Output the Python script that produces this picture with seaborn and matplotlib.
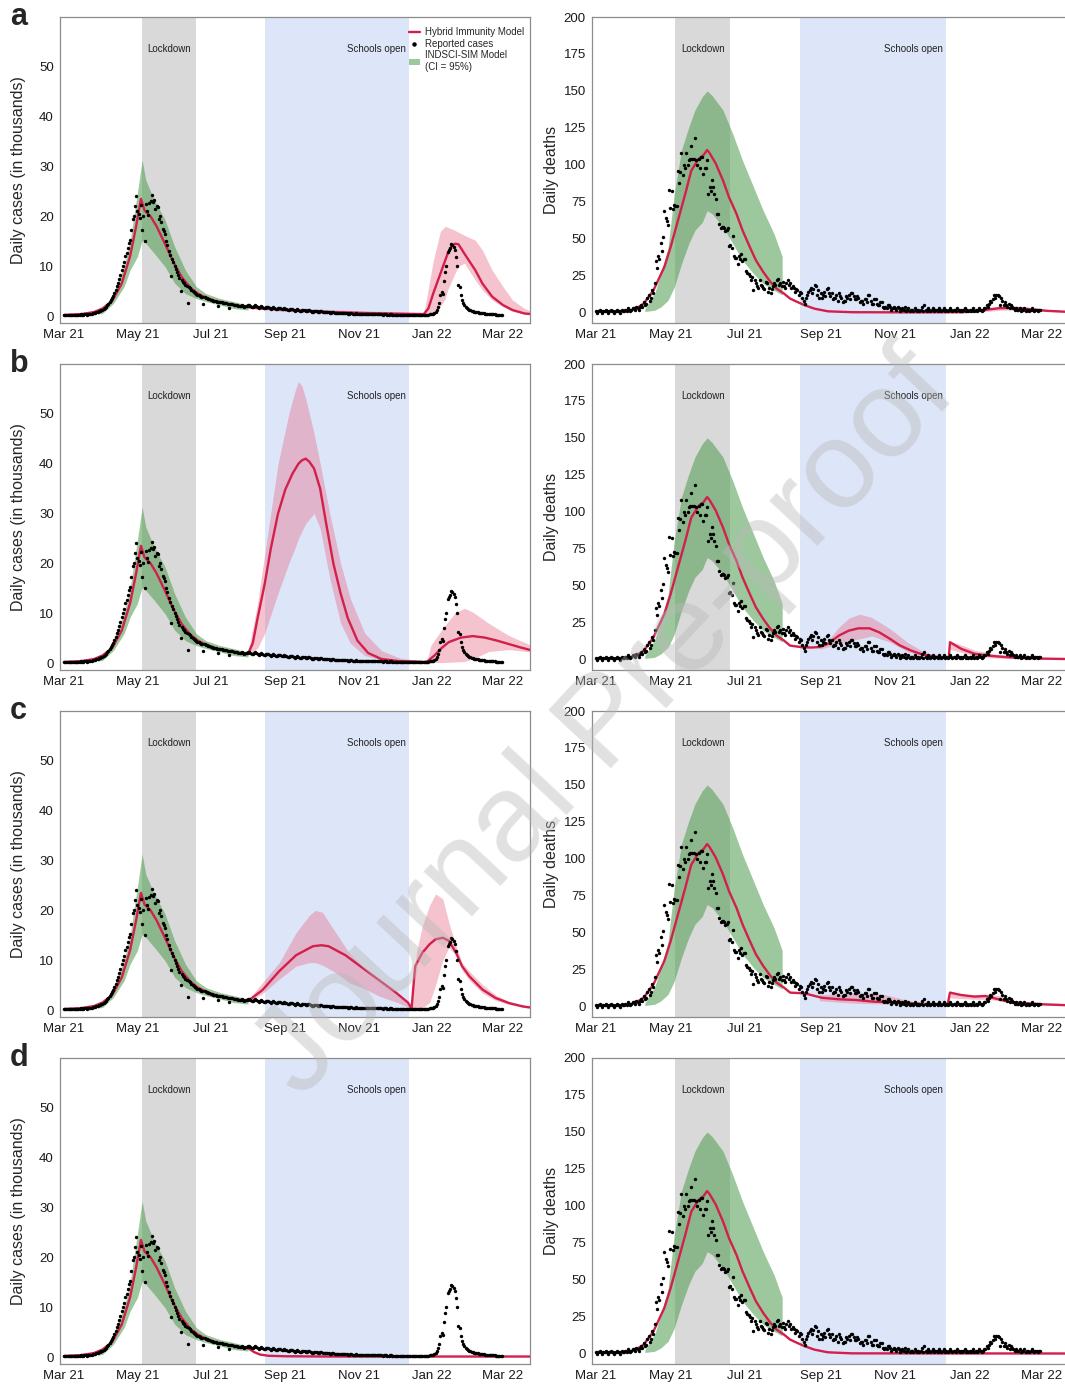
import numpy as np
import pandas as pd
import seaborn as sns
import matplotlib.pyplot as plt
import matplotlib.dates as mdates
from matplotlib.lines import Line2D
from matplotlib.patches import Patch

# ---------------------------------------------------------------
# data; days are counted from 1 Mar 2021
# ---------------------------------------------------------------
START = pd.Timestamp("2021-03-01")
LOCKDOWN = ("2021-05-05", "2021-06-19")
SCHOOLS = ("2021-08-15", "2021-12-13")

# reported daily cases (thousands), 1 Mar 2021 .. 28 Feb 2022
reported_cases = [
    # Mar
    0.2, 0.2, 0.2, 0.3, 0.2, 0.2, 0.3, 0.2, 0.3, 0.3, 0.2, 0.3, 0.3, 0.3, 0.4, 0.3,
    0.3, 0.4, 0.4, 0.3, 0.4, 0.4, 0.5, 0.5, 0.6, 0.6, 0.7, 0.8, 0.8, 1.0, 1.1,
    # Apr
    1.2, 1.3, 1.5, 1.7, 1.9, 2.2, 2.5, 2.9, 3.3, 3.6, 4.0, 4.6, 5.3, 6.0, 6.6,
    7.4, 8.3, 9.2, 10.0, 10.8, 12.0, 12.6, 13.6, 14.6, 15.2, 17.3, 19.5, 20.1, 22.0, 24.0,
    # May
    21.0, 20.5, 19.6, 22.2, 17.2, 20.0, 15.0, 22.4, 21.0, 20.2, 22.6, 23.0, 24.2, 22.8,
    23.2, 21.5, 22.0, 21.8, 19.5, 20.0, 18.8, 17.5, 17.0, 16.4, 15.0, 14.2, 13.0, 12.2,
    8.0, 11.5, 10.8,
    # Jun
    10.0, 9.4, 8.8, 8.2, 7.6, 5.0, 7.2, 6.8, 6.6, 6.2, 6.0, 2.6, 5.8, 5.6, 5.3, 5.0,
    4.8, 4.6, 4.5, 4.3, 4.2, 4.0, 3.9, 3.8, 2.5, 3.8, 3.7, 3.6, 3.5, 3.4,
    # Jul
    3.3, 3.2, 3.0, 3.1, 3.0, 2.9, 2.0, 2.9, 2.8, 2.8, 2.7, 2.6, 2.7, 2.6, 2.5, 1.6,
    2.5, 2.4, 2.4, 2.3, 2.2, 2.3, 2.2, 2.1, 2.0, 2.1, 2.2, 2.0, 1.9, 2.0, 2.1,
    # Aug
    2.2, 2.3, 2.1, 1.9, 1.8, 2.0, 2.2, 2.1, 1.9, 1.7, 1.8, 2.0, 1.9, 1.7, 1.6, 1.8,
    1.9, 1.8, 1.6, 1.5, 1.7, 1.8, 1.7, 1.5, 1.4, 1.6, 1.7, 1.6, 1.4, 1.4, 1.6,
    # Sep
    1.5, 1.4, 1.2, 1.2, 1.4, 1.5, 1.4, 1.2, 1.1, 1.3, 1.4, 1.3, 1.1, 1.0, 1.2, 1.3,
    1.2, 1.0, 1.0, 1.2, 1.2, 1.1, 0.9, 0.9, 1.1, 1.1, 1.0, 0.9, 0.8, 1.0,
    # Oct
    1.0, 0.9, 0.8, 0.8, 0.9, 0.9, 0.8, 0.7, 0.7, 0.8, 0.8, 0.7, 0.6, 0.6, 0.7, 0.7,
    0.6, 0.6, 0.6, 0.7, 0.6, 0.6, 0.5, 0.5, 0.6, 0.6, 0.5, 0.5, 0.5, 0.6, 0.5,
    # Nov
    0.5, 0.5, 0.4, 0.5, 0.5, 0.5, 0.4, 0.4, 0.5, 0.5, 0.4, 0.4, 0.4, 0.5, 0.4, 0.4,
    0.4, 0.4, 0.4, 0.4, 0.3, 0.4, 0.4, 0.4, 0.3, 0.3, 0.4, 0.4, 0.3, 0.3,
    # Dec
    0.3, 0.3, 0.3, 0.3, 0.3, 0.3, 0.3, 0.3, 0.3, 0.3, 0.3, 0.3, 0.3, 0.3, 0.3, 0.3,
    0.3, 0.3, 0.3, 0.3, 0.3, 0.3, 0.3, 0.3, 0.3, 0.3, 0.3, 0.3, 0.3, 0.4, 0.4,
    # Jan
    0.4, 0.5, 0.7, 0.9, 1.2, 1.8, 2.6, 4.2, 4.8, 4.5, 7.0, 8.8, 10.0, 12.8, 13.2,
    13.6, 14.5, 14.3, 13.9, 13.2, 11.8, 10.0, 6.2, 5.9, 4.2, 3.2, 2.6, 2.2, 1.9, 1.7, 1.5,
    # Feb
    1.3, 1.2, 1.1, 1.0, 0.9, 0.9, 0.8, 0.8, 0.7, 0.7, 0.6, 0.6, 0.6, 0.5, 0.5, 0.5,
    0.5, 0.4, 0.4, 0.4, 0.4, 0.4, 0.3, 0.3, 0.3, 0.3, 0.3, 0.3,
]

# reported daily deaths, 1 Mar 2021 .. 28 Feb 2022
reported_deaths = [
    # Mar
    1, 0, 1, 2, 1, 0, 1, 1, 2, 1, 0, 1, 2, 1, 1, 0, 1, 2, 1, 1, 0, 2, 1, 1, 2, 1, 3, 2, 1, 2, 3,
    # Apr
    3, 2, 4, 3, 2, 4, 5, 4, 7, 5, 6, 10, 12, 8, 10, 15, 13, 20, 35, 30,
    38, 36, 47, 42, 51, 69, 64, 62, 59, 83,
    # May
    71, 82, 70, 73, 72, 72, 96, 88, 95, 108, 93, 100, 98, 108, 100, 103, 104, 113, 104, 104,
    118, 103, 100, 104, 98, 105, 105, 94, 98, 98, 103,
    # Jun
    80, 85, 82, 90, 85, 80, 77, 67, 67, 60, 57, 58, 58, 57, 55, 56, 57, 45, 46, 44,
    52, 38, 37, 37, 33, 38, 36, 40, 35, 36,
    # Jul
    36, 28, 27, 26, 25, 22, 24, 15, 22, 20, 18, 17, 22, 19, 18, 17, 16, 21, 20, 14,
    17, 13, 16, 18, 20, 19, 22, 23, 19, 20, 18,
    # Aug
    21, 18, 17, 20, 22, 19, 20, 17, 18, 17, 14, 16, 15, 12, 14, 13, 10, 8, 6, 10,
    12, 14, 15, 17, 13, 16, 19, 18, 12, 15, 10,
    # Sep
    13, 10, 12, 14, 11, 16, 17, 13, 11, 13, 9, 10, 10, 12, 8, 13, 11, 10, 7, 8,
    8, 11, 10, 12, 9, 13, 13, 11, 9, 9,
    # Oct
    11, 10, 7, 8, 8, 6, 9, 9, 7, 12, 12, 8, 6, 6, 9, 9, 6, 5, 5, 7,
    7, 4, 3, 4, 3, 5, 5, 4, 2, 3, 4,
    # Nov
    3, 2, 4, 3, 1, 2, 3, 2, 4, 1, 2, 3, 1, 2, 2, 1, 3, 2, 1, 2, 1, 2, 4, 1, 5, 2, 1, 3, 2, 1,
    # Dec
    2, 3, 1, 2, 2, 1, 3, 2, 1, 2, 3, 1, 2, 1, 2, 3, 2, 1, 2, 2, 1, 3, 2, 1, 2, 1, 2, 3, 1, 2, 1,
    # Jan
    2, 1, 2, 3, 1, 2, 1, 2, 3, 2, 1, 2, 3, 3, 5, 4, 6, 8, 7, 9,
    12, 10, 12, 12, 11, 5, 10, 8, 5, 7, 5,
    # Feb
    4, 6, 3, 5, 4, 3, 2, 3, 2, 2, 3, 1, 2, 2, 3, 1, 2, 2, 1, 2, 3, 2, 1, 2, 2, 1, 2, 2,
]

# INDSCI-SIM model band (95% CI)
green_case_days = [28, 32, 41, 50, 55, 61, 65, 68, 75, 84, 92, 101, 110, 118, 130, 141, 153]
green_case_low = [0.4, 0.5, 2.5, 5.9, 9.2, 11.9, 15.2, 14.6, 12.6, 9.9, 6.6, 4.5, 3.5, 2.9, 2.2, 1.5, 1.2]
green_case_high = [0.6, 1.2, 4.5, 10.0, 15.0, 24.6, 31.3, 27.3, 23.3, 19.3, 13.9, 9.2, 5.9, 4.5, 3.5, 2.9, 2.2]

green_death_days = [40, 48, 53, 59, 64, 70, 76, 81, 87, 91, 95, 104, 112, 120, 129, 137, 146, 152.5]
green_death_low = [0.8, 1.6, 3.8, 8.3, 17, 33, 46.7, 55.7, 61, 69, 67, 58, 46.7, 35.4, 26.4, 19.6, 15, 12]
green_death_high = [2.5, 13, 26, 44, 80, 110, 125.6, 137, 146, 150, 147, 137, 121, 103, 85, 69, 53, 38]

# hybrid immunity model, fitted part shared by all scenarios
fit_case_days = [0, 15, 25, 32, 40, 48, 55, 60, 64, 67, 72, 77, 84, 91, 98, 105, 112, 119, 126, 133, 140, 147, 153]
fit_case_vals = [0.2, 0.4, 0.8, 1.5, 3.0, 6.5, 12.0, 18.0, 23.5, 21.2, 20.0, 18.0, 14.5, 10.8, 7.8, 5.7,
                 4.4, 3.6, 3.0, 2.6, 2.3, 2.0, 1.8]
fit_death_days = [0, 20, 31, 39, 47, 56, 61, 67, 73, 78, 84, 88, 91, 93, 98, 104, 109, 115, 120, 126,
                  131, 137, 143, 148, 154, 159]
fit_death_vals = [0.5, 1.0, 2.0, 6.0, 15.0, 31.0, 44.0, 62.0, 80.0, 96.0, 104.0, 106.5, 110.0, 108.0,
                  101.0, 89.5, 78.0, 67.0, 55.7, 44.4, 35.4, 27.5, 20.7, 16.2, 12.9, 9.5]

# scenario a
a_case_days = [165, 180, 200, 220, 250, 280, 299, 303, 307, 313, 319, 322, 325, 328, 333, 342, 348, 356, 365, 373, 383, 388]
a_case_vals = [1.5, 1.3, 1.0, 0.8, 0.6, 0.45, 0.35, 1.5, 4.5, 8.5, 12.5, 13.9, 14.5, 14.4, 12.5, 9.2, 6.5, 3.9, 2.2, 1.2, 0.5, 0.4]
a_case_band1_days = [153, 180, 210, 240, 270, 298]
a_case_band1_low = [1.5, 1.0, 0.6, 0.3, 0.2, 0.1]
a_case_band1_high = [2.1, 1.7, 1.4, 1.1, 0.9, 0.8]
a_case_band2_days = [299, 300, 307, 313, 317, 319, 325, 328, 333, 342, 348, 356, 365, 373, 383, 388]
a_case_band2_low = [0.2, 0.2, 0.5, 1.9, 3.5, 5.2, 8.5, 10.0, 10.6, 7.2, 5.2, 3.2, 1.9, 0.9, 0.5, 0.4]
a_case_band2_high = [0.5, 1.5, 11.0, 17.0, 18.0, 17.8, 17.2, 16.8, 16.2, 15.2, 13.2, 9.2, 5.9, 3.2, 1.5, 1.0]
a_death_days = [165, 171, 179, 190, 210, 250, 300, 310, 320, 330, 340, 350, 360, 370, 388]
a_death_vals = [7.2, 5.0, 2.7, 0.9, 0.3, 0.2, 0.3, 0.8, 2.0, 3.0, 3.2, 2.8, 2.0, 1.2, 0.5]
a_death_band_days = [305, 315, 330, 345, 360, 375, 388]
a_death_band_low = [0.2, 0.5, 1.5, 2.0, 1.2, 0.6, 0.3]
a_death_band_high = [0.5, 1.8, 4.0, 4.5, 3.0, 1.8, 1.0]

# scenario b
b_case_days = [157, 161, 167, 172, 178, 184, 190, 195, 198, 201, 204, 208, 213, 218, 224, 230, 236, 244,
               253, 264, 278, 290, 300, 302, 308, 314, 320, 330, 340, 350, 360, 370, 380, 388]
b_case_vals = [4.0, 9.0, 16.0, 23.0, 30.0, 34.8, 38.0, 40.0, 40.7, 41.0, 40.4, 39.0, 35.0, 28.0, 20.0,
               14.0, 9.0, 4.5, 2.0, 0.8, 0.4, 0.3, 0.2, 0.3, 1.5, 3.0, 4.2, 5.1, 5.4, 5.1, 4.5, 3.8, 3.1, 2.6]
b_case_band1_days = [153, 161, 167, 178, 187, 192, 195, 198, 201, 208, 213, 221, 230, 238, 250, 264, 279, 300]
b_case_band1_low = [1.5, 3.0, 6.0, 14.0, 20.0, 23.0, 25.0, 26.5, 28.0, 30.0, 27.0, 17.0, 8.0, 4.0, 1.5, 0.6, 0.2, 0.1]
b_case_band1_high = [2.1, 12.0, 22.0, 40.0, 50.0, 54.5, 56.5, 55.5, 53.0, 46.0, 40.0, 30.0, 20.0, 13.0, 6.0, 2.5, 1.0, 0.4]
b_case_band2_days = [302, 305, 315, 325, 333, 340, 353, 370, 388]
b_case_band2_low = [0.1, 0.1, 0.1, 0.2, 0.3, 0.8, 2.3, 2.7, 2.2]
b_case_band2_high = [0.5, 3.5, 7.0, 10.0, 11.0, 10.2, 8.0, 5.5, 3.6]
b_death_days = [168, 176, 183, 190, 199, 207, 215, 224, 232, 241, 249, 258, 268, 280, 289, 290, 299,
                310, 324, 338, 352, 366, 388]
b_death_vals = [8.5, 8.2, 8.5, 10.7, 16.3, 19.6, 21.2, 21.2, 18.5, 14.0, 9.6, 6.2, 3.3, 1.8, 1.1, 11.8,
                7.4, 4.0, 2.5, 1.6, 1.1, 0.7, 0.4]
b_death_band1_days = [183, 190, 199, 207, 216, 226, 241, 255, 269, 283, 289]
b_death_band1_low = [7.0, 8.5, 10.7, 13.0, 14.0, 16.0, 11.8, 5.5, 2.2, 1.2, 0.9]
b_death_band1_high = [9.0, 13.0, 22.0, 28.0, 30.8, 28.5, 20.8, 11.8, 5.0, 1.8, 1.3]
b_death_band2_days = [290, 299, 310, 325, 340, 360, 388]
b_death_band2_low = [7.0, 5.0, 2.5, 1.2, 0.7, 0.4, 0.2]
b_death_band2_high = [12.5, 10.0, 6.5, 4.0, 2.5, 1.5, 0.8]

# scenario c
c_case_days = [165, 179, 193, 207, 214, 220, 234, 248, 262, 276, 286, 289, 292, 298, 304, 309, 315,
               320, 326, 331, 337, 348, 359, 370, 382, 388]
c_case_vals = [4.0, 7.8, 11.0, 12.8, 13.0, 12.8, 11.0, 8.5, 6.0, 3.5, 1.5, 0.3, 8.8, 11.5, 13.2, 14.2,
               14.5, 13.9, 11.5, 8.8, 6.8, 4.1, 2.4, 1.4, 0.7, 0.5]
c_case_band1_days = [153, 165, 179, 193, 204, 209, 215, 226, 237, 248, 262, 276, 289]
c_case_band1_low = [1.6, 3.3, 6.2, 8.8, 9.5, 9.5, 9.0, 7.5, 5.5, 4.5, 2.8, 1.6, 0.3]
c_case_band1_high = [2.0, 5.5, 9.5, 15.5, 19.0, 20.0, 19.6, 15.5, 11.5, 8.8, 5.7, 3.4, 0.5]
c_case_band2_days = [289, 293, 298, 304, 309, 315, 320, 326, 331, 337, 348, 359, 370, 382, 388]
c_case_band2_low = [0.1, 0.2, 0.4, 1.5, 5.0, 10.0, 12.5, 11.0, 8.0, 6.0, 3.4, 1.9, 1.1, 0.5, 0.4]
c_case_band2_high = [0.5, 11.5, 16.9, 21.0, 23.3, 22.3, 17.6, 12.8, 9.5, 7.8, 5.1, 3.0, 1.7, 0.8, 0.6]
c_death_days = [171, 185, 199, 213, 227, 241, 255, 269, 288, 290, 299, 310, 319, 324, 338, 352, 366, 388]
c_death_vals = [9.0, 6.0, 5.0, 4.5, 3.4, 3.0, 2.3, 1.8, 1.1, 9.5, 7.9, 6.8, 7.2, 6.1, 3.4, 2.3, 1.6, 0.9]
c_death_band1_days = [183, 199, 213, 227, 238, 249, 260, 271, 288]
c_death_band1_low = [4.0, 3.0, 2.3, 2.0, 1.8, 1.5, 1.2, 1.0, 0.8]
c_death_band1_high = [8.0, 8.5, 9.0, 9.0, 7.9, 5.6, 3.4, 2.3, 1.5]
c_death_band2_days = [290, 299, 310, 320, 330, 340, 355, 370, 388]
c_death_band2_low = [6.0, 5.5, 5.0, 5.0, 4.0, 2.5, 1.6, 1.0, 0.6]
c_death_band2_high = [10.5, 8.5, 8.0, 8.5, 7.5, 4.5, 2.8, 2.0, 1.2]

# scenario d
d_case_days = [158, 163, 170, 185, 220, 388]
d_case_vals = [1.0, 0.5, 0.25, 0.15, 0.1, 0.1]
d_death_days = [165, 171, 179, 190, 210, 388]
d_death_vals = [7.2, 5.0, 2.7, 0.9, 0.2, 0.1]

# ---------------------------------------------------------------
RED = "#d21f4b"
PINK = "#e5708c"
GREEN = "#4d9c4d"
GREY = "#d9d9d9"
BLUE = "#dde6f8"
W, H = 1065, 1384

sns.set_style("white")
plt.rcParams["font.family"] = ["Liberation Sans", "DejaVu Sans"]
plt.rcParams["axes.edgecolor"] = "#8c8c8c"
plt.rcParams["axes.linewidth"] = 0.9
plt.rcParams["xtick.color"] = "#8c8c8c"
plt.rcParams["ytick.color"] = "#8c8c8c"
plt.rcParams["xtick.labelcolor"] = "#1a1a1a"
plt.rcParams["ytick.labelcolor"] = "#1a1a1a"


def to_dates(days):
    return START + pd.to_timedelta(np.asarray(days, dtype=float), unit="D")


rows = {
    "a": dict(cases=(a_case_days, a_case_vals),
              case_bands=[(a_case_band1_days, a_case_band1_low, a_case_band1_high),
                          (a_case_band2_days, a_case_band2_low, a_case_band2_high)],
              deaths=(a_death_days, a_death_vals),
              death_bands=[(a_death_band_days, a_death_band_low, a_death_band_high)]),
    "b": dict(cases=(b_case_days, b_case_vals),
              case_bands=[(b_case_band1_days, b_case_band1_low, b_case_band1_high),
                          (b_case_band2_days, b_case_band2_low, b_case_band2_high)],
              deaths=(b_death_days, b_death_vals),
              death_bands=[(b_death_band1_days, b_death_band1_low, b_death_band1_high),
                           (b_death_band2_days, b_death_band2_low, b_death_band2_high)]),
    "c": dict(cases=(c_case_days, c_case_vals),
              case_bands=[(c_case_band1_days, c_case_band1_low, c_case_band1_high),
                          (c_case_band2_days, c_case_band2_low, c_case_band2_high)],
              deaths=(c_death_days, c_death_vals),
              death_bands=[(c_death_band1_days, c_death_band1_low, c_death_band1_high),
                           (c_death_band2_days, c_death_band2_low, c_death_band2_high)]),
    "d": dict(cases=(d_case_days, d_case_vals), case_bands=[],
              deaths=(d_death_days, d_death_vals), death_bands=[]),
}


def draw_panel(ax, reported, green, fit, cont, bands, ylim, yticks, ylabel, labelpad):
    ax.axvspan(pd.Timestamp(LOCKDOWN[0]), pd.Timestamp(LOCKDOWN[1]), color=GREY, lw=0, zorder=0)
    ax.axvspan(pd.Timestamp(SCHOOLS[0]), pd.Timestamp(SCHOOLS[1]), color=BLUE, lw=0, zorder=0)

    gd, glo, ghi = green
    ax.fill_between(to_dates(gd), glo, ghi, color=GREEN, alpha=0.55, lw=0, zorder=1)
    for bd, blo, bhi in bands:
        ax.fill_between(to_dates(bd), blo, bhi, color=PINK, alpha=0.42, lw=0, zorder=2)

    line_days = list(fit[0]) + list(cont[0])
    line_vals = list(fit[1]) + list(cont[1])
    sns.lineplot(x=to_dates(line_days), y=line_vals, ax=ax, color=RED, lw=1.7,
                 estimator=None, sort=False, zorder=4)
    sns.scatterplot(x=pd.date_range(START, periods=len(reported), freq="D"), y=reported,
                    ax=ax, color="black", s=6, linewidth=0, zorder=5, legend=False)

    trans = ax.get_xaxis_transform()
    lock_mid = pd.Timestamp(LOCKDOWN[0]) + (pd.Timestamp(LOCKDOWN[1]) - pd.Timestamp(LOCKDOWN[0])) / 2
    ax.text(lock_mid, 0.895, "Lockdown", transform=trans, ha="center", va="center",
            fontsize=7, color="#222222")
    ax.text(pd.Timestamp(SCHOOLS[1]) - pd.Timedelta(days=3), 0.895, "Schools open",
            transform=trans, ha="right", va="center", fontsize=7, color="#222222")

    ax.set_xlim(START - pd.Timedelta(days=3.3), START + pd.Timedelta(days=387.5))
    ax.set_ylim(*ylim)
    ax.set_yticks(yticks)
    ax.xaxis.set_major_locator(mdates.MonthLocator(bymonth=[1, 3, 5, 7, 9, 11]))
    ax.xaxis.set_major_formatter(mdates.DateFormatter("%b %y"))
    ax.tick_params(axis="both", labelsize=9.5, length=3, width=0.8, pad=1.5)
    ax.set_xlabel("")
    ax.set_ylabel(ylabel, fontsize=11.5, labelpad=labelpad)


fig = plt.figure(figsize=(W / 100, H / 100), dpi=100)

for k, letter in enumerate("abcd"):
    row = rows[letter]
    top = 17 + 347 * k
    bottom = 1 - (top + 306) / H

    axl = fig.add_axes([60 / W, bottom, 470 / W, 306 / H])
    draw_panel(axl, reported_cases, (green_case_days, green_case_low, green_case_high),
               (fit_case_days, fit_case_vals), row["cases"], row["case_bands"],
               (-1.4, 60), [0, 10, 20, 30, 40, 50], "Daily cases (in thousands)", 9)

    axr = fig.add_axes([592 / W, bottom, 477 / W, 306 / H])
    draw_panel(axr, reported_deaths, (green_death_days, green_death_low, green_death_high),
               (fit_death_days, fit_death_vals), row["deaths"], row["death_bands"],
               (-7, 200), [0, 25, 50, 75, 100, 125, 150, 175, 200], "Daily deaths", 3)
    axr.spines["right"].set_visible(False)

    fig.text(10 / W, 1 - (25 + 347 * k) / H, letter, fontsize=22, fontweight="bold",
             ha="left", va="baseline")

    if letter == "a":
        handles = [Line2D([], [], color=RED, lw=1.7),
                   Line2D([], [], color="black", marker="o", ms=2.2, lw=0),
                   Patch(facecolor=GREEN, alpha=0.55, lw=0)]
        labels = ["Hybrid Immunity Model", "Reported cases", "INDSCI-SIM Model\n(CI = 95%)"]
        axl.legend(handles, labels, loc="upper right", bbox_to_anchor=(1.0, 0.985),
                   frameon=False, fontsize=7, handlelength=1.2, handleheight=0.6,
                   handletextpad=0.5, labelspacing=0.15, borderaxespad=0.2)

# "Journal Pre-proof" watermark across the page
fig.text(0.57, 0.476, "Journal Pre-proof", rotation=47, fontsize=90, color="#b8b8b8",
         alpha=0.42, ha="center", va="center", zorder=10)

fig.savefig("out.png", dpi=100)
